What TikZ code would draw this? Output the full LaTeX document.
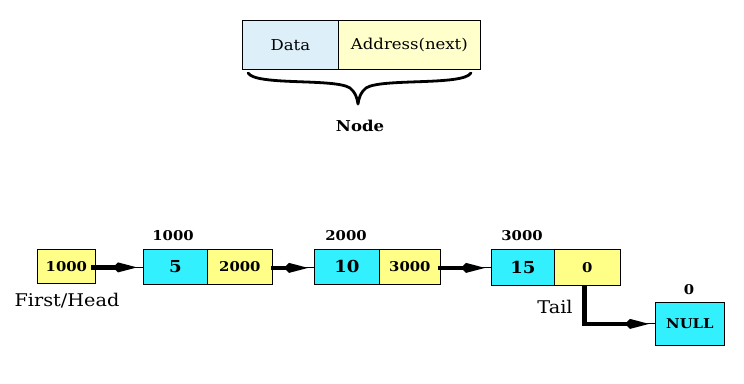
\documentclass[tikz,border=0pt]{standalone}
\usepackage{fontspec}
\setmainfont[FakeStretch=1.1]{DejaVu Serif}
\usetikzlibrary{arrows.meta,calc}
\definecolor{cyanbox}{HTML}{33F0FF}
\definecolor{yelbox}{HTML}{FFFF88}
\definecolor{datab}{HTML}{DDEFF8}
\definecolor{addrb}{HTML}{FFFFCC}
\tikzset{
  cell/.style={draw=black, line width=0.8pt, minimum height=35pt, inner sep=0pt, anchor=north west},
  small/.style={font=\fontsize{13.5}{13.5}\selectfont\bfseries},
  big/.style={font=\fontsize{16.5}{16.5}\selectfont\bfseries},
  addr/.style={font=\fontsize{13.5}{13.5}\selectfont\bfseries},
  toptxt/.style={font=\fontsize{15}{15}\selectfont},
  plain/.style={font=\fontsize{17.5}{17.5}\selectfont},
  thickarrow/.style={line width=4.5pt, -{Kite[length=24pt,width=10pt,inset=5pt]}, shorten >=6pt},
  thinline/.style={line width=1pt}
}
\begin{document}
\begin{tikzpicture}[x=1pt,y=-1pt]
\useasboundingbox (0,0) rectangle (744,383);
% top node
\node[cell, fill=datab, minimum width=96pt, minimum height=49pt, toptxt] (data) at (242,20) {Data};
\node[cell, fill=addrb, minimum width=142pt, minimum height=49pt, toptxt] (address) at (338,20) {Address(next)};
\coordinate (bl) at (248,73);
\coordinate (br) at (471,73);
\coordinate (btip) at (358,104);
\draw[line width=2.8pt, line cap=round, line join=round]
  (bl) .. controls (256,86) and (335,78) .. (350,88) .. controls (355,92) and (357,97) .. (btip)
  (br) .. controls (463,86) and (381,78) .. (366,88) .. controls (361,92) and (359,97) .. (btip);
\node[font=\fontsize{15}{15}\selectfont\bfseries] (nodelbl) at (360,126) {Node};
% list
\node[cell, fill=yelbox, minimum width=58pt, minimum height=34pt, small] (head) at (37,249) {1000};
\node[plain] (headlbl) at (67,301) {First/Head};

\node[cell, fill=cyanbox, minimum width=64pt, big] (d1) at (143,249) {5};
\node[cell, fill=yelbox, minimum width=65pt, addr] (a1) at (207,249) {2000};
\node[small] (l1) at (173,236) {1000};

\node[cell, fill=cyanbox, minimum width=65pt, big] (d2) at (314,249) {10};
\node[cell, fill=yelbox, minimum width=61pt, addr] (a2) at (379,249) {3000};
\node[small] (l2) at (346,236) {2000};

\node[cell, fill=cyanbox, minimum width=63pt, minimum height=36pt, big] (d3) at (491,249) {15};
\node[cell, fill=yelbox, minimum width=66pt, minimum height=36pt, addr] (a3) at (554,249) {0};
\node[small] (l3) at (522,236) {3000};
\node[plain] (tail) at (555,307) {Tail};

\node[cell, fill=cyanbox, minimum width=69pt, minimum height=43pt, small] (null) at (655,302) {NULL};
\node[small] (l4) at (689,290) {0};

% arrows
\coordinate (s0) at ($(head.east)+(-5,1)$);
\coordinate (s1) at ($(a1.east)+(-2,1)$);
\coordinate (s2) at ($(a2.east)+(-3,1)$);
\draw[thinline] (s0) -- (s0 -| d1.west);
\draw[thickarrow] (s0) -- (s0 -| d1.west);
\draw[thinline] (s1) -- (s1 -| d2.west);
\draw[thickarrow] (s1) -- (s1 -| d2.west);
\draw[thinline] (s2) -- (s2 -| d3.west);
\draw[thickarrow] (s2) -- (s2 -| d3.west);
\coordinate (t0) at ($(a3.center)+(-3,20)$);
\coordinate (t1) at (t0 |- null.west);
\draw[thinline] (t1) -- (null.west);
\draw[line width=4.5pt, line join=miter] ($(t0)+(0,-1)$) -- (t1) -- ($(t1)+(10,0)$);
\draw[thickarrow] (t1) -- (null.west);
\end{tikzpicture}
\end{document}
